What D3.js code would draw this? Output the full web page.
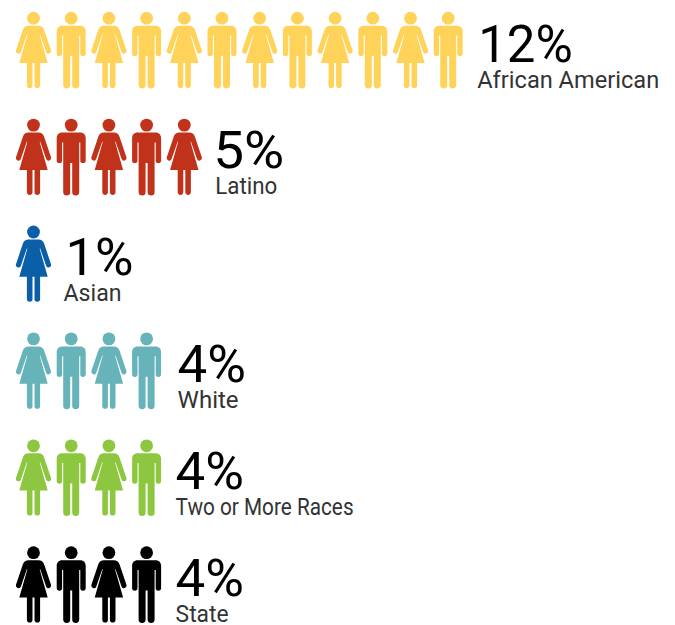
<!DOCTYPE html>
<html><head><meta charset="utf-8">
<script src="https://cdn.jsdelivr.net/npm/d3@7/dist/d3.min.js"></script>
<style>html,body{margin:0;background:#fff}svg{display:block}
.num{font-family:Roboto,sans-serif;font-weight:400;font-size:51px;fill:#000}
.lab{font-family:Roboto,sans-serif;font-weight:400;font-size:24px;fill:#333}</style>
</head><body><svg id="c" width="675" height="625"></svg>
<script>
const categories = ["African American","Latino","Asian","White","Two or More Races","State"];
const values = [12,5,1,4,4,4];
const colors = ["#ffd35a","#c1321a","#0b5ea8","#66b3b9","#8dc73f","#000000"];
const firstIconIsWoman = true;

// rendering constants (layout only)
const labelWidths = [182,62,58,61,178,53];
const labelDx = [-3,-1,-2,-1,-3,-3];
const numDx = [-2,-3,0,-1,-3,-3];
const numWidths = [94.6,71,68,68.5,68.5,68.5];

const woman = "M-5,13.7H5C7.8,13.7 9.6,15 10.6,17.8L17.6,38.6A2.6,2.6 0 0 1 12.7,40.2L6.6,22.5 6.2,23 14.2,51H6.6V73.2A2.6,2.6 0 0 1 1,73.2V51H-1V73.2A2.6,2.6 0 0 1 -6.6,73.2V51H-14.2L-6.2,23 -6.6,22.5 -12.7,40.2A2.6,2.6 0 0 1 -17.6,38.6L-10.6,17.8C-9.6,15 -7.8,13.7 -5,13.7Z";
const man = "M-9,13.7H9C12.5,13.7 14.5,16 14.5,19.5V41.5A2.7,2.7 0 0 1 9.1,41.5V23.5H8V73A3.4,3.4 0 0 1 1,73V44H-1V73A3.4,3.4 0 0 1 -8,73V23.5H-9.1V41.5A2.7,2.7 0 0 1 -14.5,41.5V19.5C-14.5,16 -12.5,13.7 -9,13.7Z";

const svg = d3.select("#c");
const x = d3.scaleLinear().domain([1,12]).range([33.5,448.2]);
const y = d3.scalePoint().domain(categories).range([12,546.5]);
const color = d3.scaleOrdinal().domain(categories).range(colors);

const rows = svg.selectAll("g.row").data(categories.map((c,i)=>({c,i,v:values[i]})))
  .join("g").attr("class","row").attr("transform",d=>`translate(0,${y(d.c)})`);

const icons = rows.selectAll("g.icon").data(d=>d3.range(1,d.v+1).map(n=>({n,c:d.c})))
  .join("g").attr("class","icon").attr("transform",d=>`translate(${x(d.n)},0)`).attr("fill",d=>color(d.c));
icons.append("circle").attr("cy",6.2).attr("r",6.4);
icons.append("path").attr("d",d=>(d.n%2===1)===firstIconIsWoman?woman:man);

rows.append("text").attr("class","num")
  .attr("x",d=>x(d.v)+32+numDx[d.i]).attr("y",49.5)
  .attr("textLength",d=>numWidths[d.i]).attr("lengthAdjust","spacingAndGlyphs").text(d=>d.v+"%");
rows.append("text").attr("class","lab")
  .attr("x",d=>x(d.v)+32+labelDx[d.i]).attr("y",75.5)
  .attr("textLength",d=>labelWidths[d.i]).attr("lengthAdjust","spacingAndGlyphs").text(d=>d.c);
</script></body></html>
